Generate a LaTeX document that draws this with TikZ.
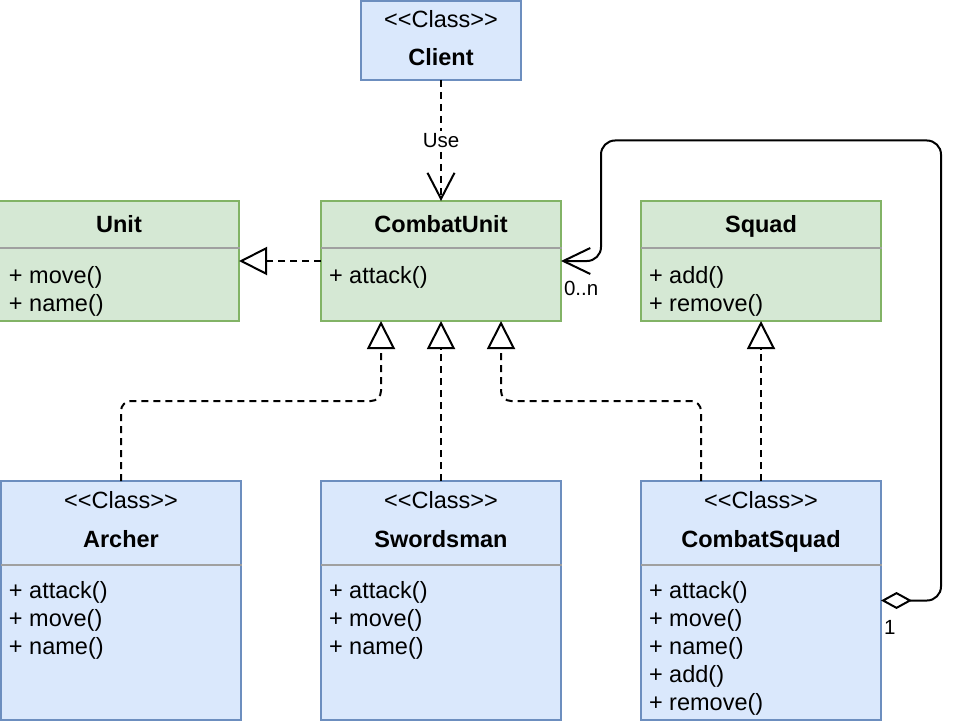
\documentclass[tikz,border=0pt]{standalone}
\usepackage{fontspec}
\setmainfont{Liberation Sans}
\usetikzlibrary{arrows.meta}
\definecolor{bluefill}{HTML}{DAE8FC}
\definecolor{bluedraw}{HTML}{6C8EBF}
\definecolor{greenfill}{HTML}{D5E8D4}
\definecolor{greendraw}{HTML}{82B366}
\definecolor{divgray}{HTML}{A0A0A0}
\newcommand{\stereotype}{<\kern0pt<Class>\kern0pt>}
\begin{document}
\begin{tikzpicture}[x=1pt,y=-1pt,
  every node/.style={inner sep=0pt, outer sep=0pt},
  bluebox/.style={draw=bluedraw, fill=bluefill, line width=2pt, anchor=north west, minimum width=240pt},
  greenbox/.style={draw=greendraw, fill=greenfill, line width=2pt, anchor=north west, minimum width=240pt, minimum height=120pt},
  divider/.style={draw=divgray, line width=2pt},
  stereo/.style={anchor=base, font=\fontsize{23.5}{28}\selectfont},
  cname/.style={anchor=base, font=\fontsize{23.5}{28}\selectfont\bfseries},
  meth/.style={anchor=base west, font=\fontsize{23.5}{28}\selectfont},
  lbl/.style={font=\fontsize{20.5}{24}\selectfont},
  dep/.style={draw=black, line width=2pt, dash pattern=on 7pt off 5pt},
  inh/.style={-{Triangle[length=28pt,width=28pt,fill=white]}},
  openarrow/.style={-{Straight Barb[length=26pt,width=27pt]}},
]
\useasboundingbox (0,0) rectangle (976,722);

% boxes
\node[bluebox, minimum width=160pt, minimum height=79pt] (client) at (361,1) {};
\node[greenbox] (unit) at (-1,201) {};
\node[greenbox] (combatunit) at (321,201) {};
\node[greenbox] (squad) at (641,201) {};
\node[bluebox, minimum height=239pt] (archer) at (1,481) {};
\node[bluebox, minimum height=239pt] (swordsman) at (321,481) {};
\node[bluebox, minimum height=239pt] (combatsquad) at (641,481) {};

% client
\node[stereo] at ([yshift=-27pt]client.north) {\stereotype};
\node[cname] at ([yshift=-65pt]client.north) {Client};

% green boxes
\foreach \b/\n in {unit/Unit, combatunit/CombatUnit, squad/Squad}{
  \draw[divider] ([yshift=-47pt]\b.north west) -- ([yshift=-47pt,xshift=1pt]\b.north east);
  \node[cname] at ([yshift=-31pt]\b.north) {\n};
}
\node[meth] at ([xshift=10pt,yshift=-82pt]unit.north west) {+ move()};
\node[meth] at ([xshift=10pt,yshift=-110pt]unit.north west) {+ name()};
\node[meth] at ([xshift=8pt,yshift=-82pt]combatunit.north west) {+ attack()};
\node[meth] at ([xshift=8pt,yshift=-82pt]squad.north west) {+ add()};
\node[meth] at ([xshift=8pt,yshift=-110pt]squad.north west) {+ remove()};

% blue boxes
\foreach \b/\n in {archer/Archer, swordsman/Swordsman, combatsquad/CombatSquad}{
  \draw[divider] ([yshift=-84pt]\b.north west) -- ([yshift=-84pt,xshift=1pt]\b.north east);
  \node[stereo] at ([yshift=-27pt]\b.north) {\stereotype};
  \node[cname] at ([yshift=-66pt]\b.north) {\n};
}
\foreach \b in {archer, swordsman}{
  \node[meth] at ([xshift=8pt,yshift=-117pt]\b.north west) {+ attack()};
  \node[meth] at ([xshift=8pt,yshift=-145pt]\b.north west) {+ move()};
  \node[meth] at ([xshift=8pt,yshift=-173pt]\b.north west) {+ name()};
}
\node[meth] at ([xshift=8pt,yshift=-117pt]combatsquad.north west) {+ attack()};
\node[meth] at ([xshift=8pt,yshift=-145pt]combatsquad.north west) {+ move()};
\node[meth] at ([xshift=8pt,yshift=-173pt]combatsquad.north west) {+ name()};
\node[meth] at ([xshift=8pt,yshift=-201pt]combatsquad.north west) {+ add()};
\node[meth] at ([xshift=8pt,yshift=-229pt]combatsquad.north west) {+ remove()};

% connectors
\draw[dep, openarrow] (client.south) -- node[lbl, fill=white, inner sep=2pt] {Use} (client.south |- combatunit.north);
\draw[dep, inh] (combatunit.west) -- (unit.east);
\draw[dep, rounded corners=10pt, inh] (archer.north) -- ++(0,-80) -| ([xshift=-60pt]combatunit.south);
\draw[dep, inh] (swordsman.north) -- (combatunit.south);
\draw[dep, rounded corners=10pt, inh] ([xshift=-60pt]combatsquad.north) -- ++(0,-80) -| ([xshift=60pt]combatunit.south);
\draw[dep, inh] (combatsquad.north) -- (squad.south);
\draw[line width=2pt, rounded corners=14pt, {Diamond[length=31pt,width=17pt,fill=white]}-{Straight Barb[length=27pt,width=26pt]}]
  (combatsquad.east) -- ++(60,0) -- ++(0,-460) -| ([xshift=40pt]combatunit.east) -- (combatunit.east);
\node[lbl, anchor=base west] at ([xshift=3pt,yshift=-34pt]combatunit.east) {0..n};
\node[lbl, anchor=base west] at ([xshift=3pt,yshift=-33.5pt]combatsquad.east) {1};
\end{tikzpicture}
\end{document}
